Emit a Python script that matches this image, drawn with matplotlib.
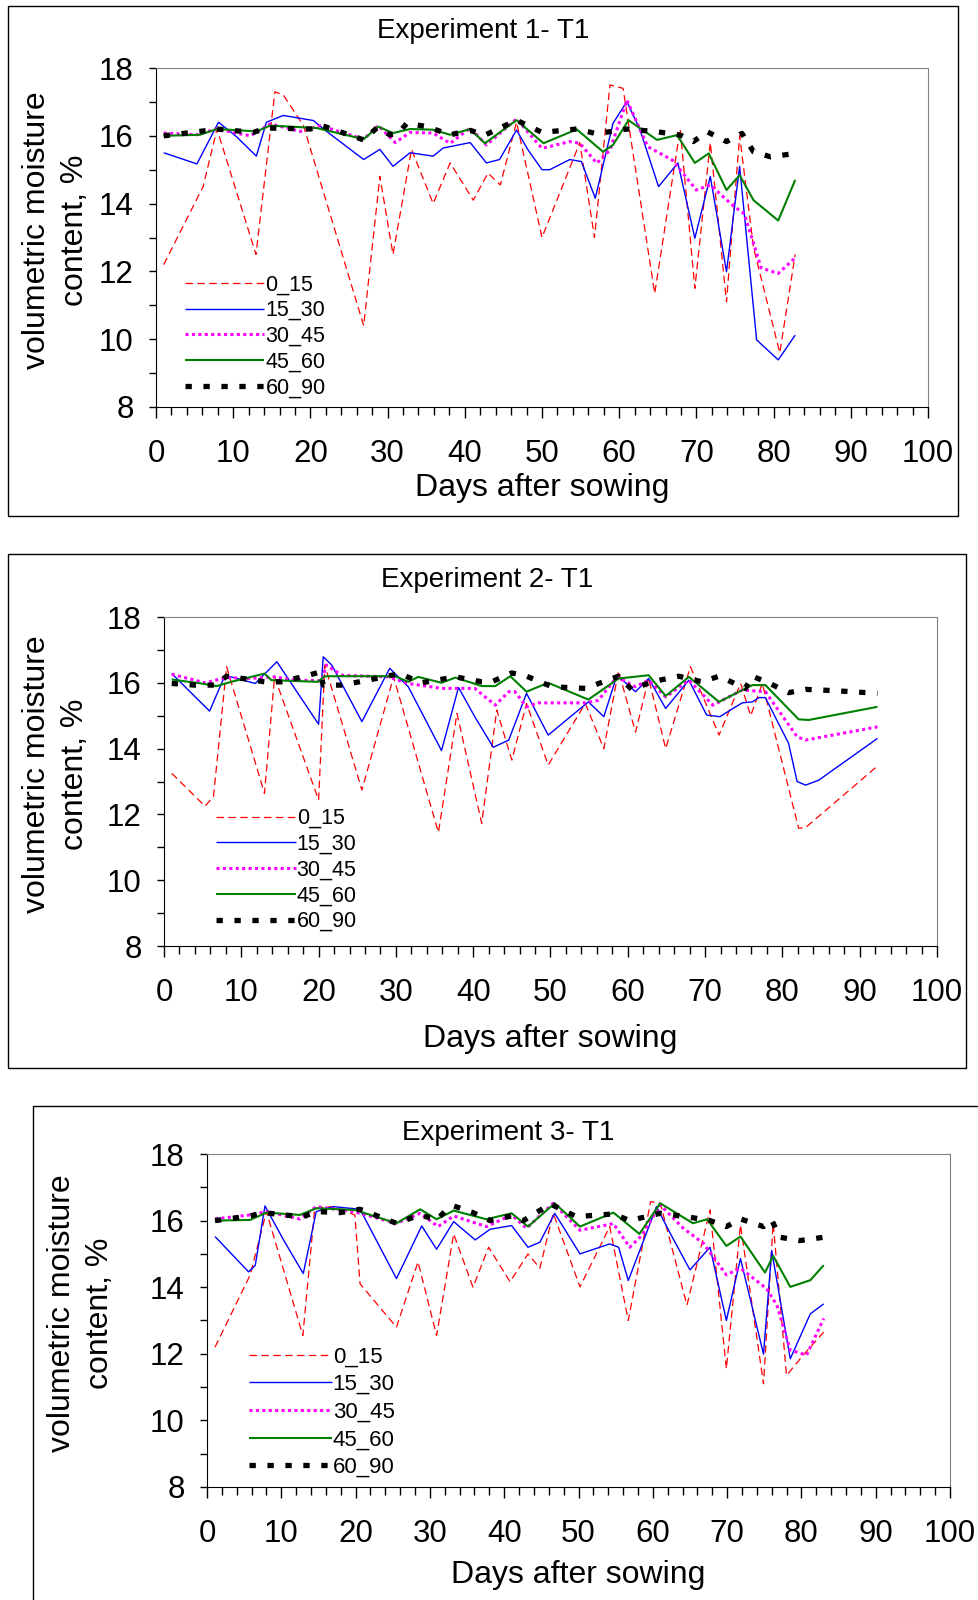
import matplotlib
matplotlib.use("Agg")
import matplotlib.pyplot as plt
from matplotlib.patches import Rectangle
from matplotlib.ticker import MultipleLocator

plt.rcParams['font.family'] = ['Liberation Sans', 'DejaVu Sans']

depths = ['0_15', '15_30', '30_45', '45_60', '60_90']

# ---- Experiment 1 ----
e1_0_15_day = [1, 6.1, 7.9, 12.95, 15.4, 16.5, 19.1, 26.9, 29.0, 30.7, 33.1, 35.9, 38.1, 41.1, 43.0, 44.6, 46.7,
               50.0, 54.9, 56.8, 58.8, 60.5, 64.6, 67.9, 69.8, 71.8, 73.9, 75.6, 77.4, 80.8, 82.8]
e1_0_15_vmc = [12.2, 14.5, 16.2, 12.5, 17.3, 17.2, 16.3, 10.4, 14.8, 12.5, 15.6, 14.0, 15.2, 14.1, 14.9, 14.55, 16.4,
               13.0, 15.8, 13.0, 17.5, 17.4, 11.35, 16.2, 11.5, 15.8, 11.1, 16.0, 12.7, 9.6, 12.5]
e1_15_30_day = [1, 5.3, 8.1, 10.4, 13.0, 14.3, 16.5, 20.4, 21.7, 26.9, 29.0, 30.7, 32.9, 35.9, 37.2, 40.7, 42.8, 44.5,
                46.7, 48.2, 50.0, 51.0, 53.6, 55.1, 56.9, 59.2, 61.0, 62.7, 65.1, 67.6, 69.8, 71.8, 73.9, 75.6, 77.8,
                80.6, 82.8]
e1_15_30_vmc = [15.5, 15.17, 16.4, 15.98, 15.4, 16.4, 16.6, 16.45, 16.2, 15.3, 15.6, 15.1, 15.5, 15.4, 15.64, 15.8,
                15.2, 15.3, 16.17, 15.58, 15.0, 15.0, 15.3, 15.24, 14.16, 16.37, 17.01, 16.17, 14.5, 15.2, 12.98, 14.8,
                11.99, 15.1, 9.98, 9.39, 10.12]
e1_30_45_day = [1, 5.3, 7.8, 12.2, 14.8, 18.7, 21.3, 26.9, 28.8, 31.0, 32.9, 35.9, 38.1, 40.7, 42.8, 46.7, 50.0, 53.6,
                54.9, 57.1, 58.8, 61.0, 63.7, 66.9, 70.0, 71.8, 74.8, 76.2, 78.4, 80.6, 82.8]
e1_30_45_vmc = [16.08, 16.03, 16.2, 16.0, 16.35, 16.13, 16.3, 15.9, 16.3, 15.8, 16.1, 16.08, 15.78, 16.23, 15.73, 16.5,
                15.63, 15.83, 15.78, 15.19, 15.58, 17.05, 15.68, 15.28, 14.4, 14.55, 13.93, 13.7, 12.1, 11.94, 12.4]
e1_45_60_day = [1, 5.7, 7.9, 13.0, 14.8, 20.8, 26.9, 28.8, 30.7, 32.9, 35.9, 38.1, 40.7, 42.6, 46.7, 50.2, 54.5, 57.9,
                59.2, 61.2, 64.9, 67.5, 69.8, 71.6, 73.9, 75.6, 77.4, 80.6, 82.8]
e1_45_60_vmc = [16.0, 16.03, 16.2, 16.13, 16.3, 16.23, 15.9, 16.27, 16.08, 16.2, 16.18, 16.03, 16.2, 15.78, 16.46,
                15.78, 16.19, 15.53, 15.73, 16.46, 15.88, 16.02, 15.2, 15.48, 14.4, 14.84, 14.1, 13.5, 14.7]
e1_60_90_day = [1, 5.7, 7.9, 12.6, 14.3, 20.0, 21.5, 26.9, 28.6, 30.3, 31.4, 32.5, 35.1, 38.1, 40.7, 42.6, 46.7, 50.0,
                54.5, 56.9, 58.8, 61.0, 64.9, 67.9, 69.6, 71.4, 73.9, 75.9, 77.4, 79.6, 82.8]
e1_60_90_vmc = [16.0, 16.13, 16.2, 16.1, 16.23, 16.2, 16.3, 15.88, 16.23, 16.03, 16.08, 16.37, 16.27, 16.03, 16.16,
                16.02, 16.46, 16.1, 16.2, 16.07, 16.12, 16.2, 16.12, 16.02, 15.83, 16.12, 15.83, 16.07, 15.53, 15.38,
                15.48]

# ---- Experiment 2 ----
e2_0_15_day = [1.0, 5.3, 6.4, 8.1, 13.0, 14.3, 20.0, 20.8, 25.6, 29.7, 35.5, 37.9, 41.1, 43.05, 45.0, 46.9, 49.7,
               54.5, 56.9, 58.8, 61.0, 62.7, 64.9, 68.1, 71.8, 74.6, 75.9, 77.4, 82.1, 83.0, 92.3]
e2_0_15_vmc = [13.25, 12.25, 12.54, 16.49, 12.64, 16.18, 12.44, 16.54, 12.74, 16.18, 11.45, 15.07, 11.73, 15.17, 13.65,
               15.37, 13.5, 15.37, 14.0, 16.36, 14.5, 16.13, 14.0, 16.49, 14.41, 15.98, 15.0, 15.98, 11.58, 11.6, 13.47]
e2_15_30_day = [1.0, 5.9, 7.9, 11.8, 14.6, 20.0, 20.6, 21.7, 25.6, 29.2, 31.6, 35.9, 38.1, 40.2, 42.6, 44.6, 46.9,
                49.7, 54.9, 56.9, 58.6, 61.0, 62.7, 64.9, 67.9, 70.2, 71.9, 74.8, 76.1, 77.0, 77.8, 80.8, 81.9, 83.0,
                84.7, 92.3]
e2_15_30_vmc = [16.28, 15.14, 16.23, 15.98, 16.64, 14.74, 16.79, 16.54, 14.82, 16.44, 15.88, 13.94, 15.86, 14.97,
                14.04, 14.26, 15.68, 14.41, 15.42, 14.97, 16.23, 15.73, 16.13, 15.22, 16.08, 15.02, 14.97, 15.39, 15.42,
                15.55, 15.55, 14.16, 13.0, 12.89, 13.04, 14.31]
e2_30_45_day = [1, 5.3, 8.1, 11, 14.3, 16.9, 20.4, 21.0, 23, 29, 31.6, 35.9, 40.2, 42.85, 44.6, 45.4, 46.9, 48.4, 54.5,
                56.2, 58.6, 61.0, 62.7, 64.9, 67.9, 71.0, 74.8, 77.8, 81.9, 83.0, 92.3]
e2_30_45_vmc = [16.26, 16.0, 16.16, 16.13, 16.18, 16.08, 16.06, 16.54, 16.23, 16.18, 15.98, 15.83, 15.83, 15.32,
                15.73, 15.73, 15.27, 15.39, 15.39, 15.47, 16.18, 15.88, 16.08, 15.57, 16.08, 15.32, 15.78, 15.73, 14.36,
                14.26, 14.66]
e2_45_60_day = [1, 4.8, 6.8, 8.7, 13.0, 13.9, 19.9, 20.8, 29.9, 31.6, 32.9, 35.9, 37.7, 41.1, 42.85, 44.8, 46.9, 49.7,
                54.9, 58.8, 62.7, 64.9, 67.9, 71.8, 76.1, 77.8, 82.1, 83.4, 92.3]
e2_45_60_vmc = [16.1, 15.98, 15.9, 16.03, 16.28, 16.08, 16.03, 16.2, 16.2, 16.03, 16.18, 16.0, 16.16, 15.9, 15.9, 16.2,
                15.73, 16.0, 15.49, 16.13, 16.23, 15.6, 16.18, 15.42, 15.93, 15.93, 14.89, 14.87, 15.27]
e2_60_90_day = [1, 4, 6.6, 8.1, 10.2, 13, 15.2, 18.7, 20.2, 20.6, 23, 26.4, 30.5, 33.3, 37.7, 41.1, 42.4, 45, 46.9,
                50.2, 54.5, 58.8, 60.5, 63.1, 66.6, 69.6, 71.8, 75.2, 76.1, 78.2, 80.8, 83.0, 86.8, 92.3]
e2_60_90_vmc = [15.98, 15.93, 15.93, 16.2, 16.13, 16.03, 16.03, 16.23, 16.33, 15.93, 15.93, 16.08, 16.28, 16.0, 16.18,
                16.03, 16.03, 16.3, 16.2, 15.88, 15.83, 16.2, 15.8, 16.03, 16.2, 16.03, 16.2, 15.83, 16.2, 16.0, 15.7,
                15.8, 15.76, 15.68]

# ---- Experiment 3 ----
e3_0_15_day = [1.08, 5.8, 8.0, 12.9, 14.5, 17, 19.9, 20.6, 25.5, 28.4, 30.9, 33.2, 35.8, 37.9, 40.8, 43.2, 44.8, 46.6,
               50.2, 54.2, 56.7, 59.7, 61.0, 64.6, 67.7, 69.9, 71.8, 74.9, 76.2, 78.0, 80.2, 83.0]
e3_0_15_vmc = [12.2, 14.36, 16.27, 12.55, 16.37, 16.42, 16.17, 14.1, 12.8, 14.76, 12.55, 15.6, 14.0, 15.2, 14.16, 15.0,
               14.57, 16.22, 14.01, 15.82, 13.0, 16.57, 16.52, 13.46, 16.32, 11.55, 15.87, 11.1, 15.92, 11.35, 11.95,
               12.65]
e3_15_30_day = [1.08, 5.6, 6.5, 7.8, 10.3, 12.96, 14.7, 17, 20.6, 25.5, 28.9, 30.9, 33.2, 36.1, 38.1, 41.0, 43.2, 44.8,
                46.8, 50.2, 54.2, 55.4, 56.7, 60.5, 62.1, 65.0, 67.7, 69.9, 71.8, 74.9, 76.0, 78.5, 81.2, 83.0]
e3_15_30_vmc = [15.52, 14.46, 14.66, 16.44, 15.42, 14.41, 16.27, 16.42, 16.34, 14.26, 15.84, 15.14, 15.97, 15.42,
                15.74, 15.85, 15.2, 15.35, 16.22, 15.0, 15.3, 15.2, 14.2, 16.42, 15.72, 14.52, 15.2, 13.0, 14.86, 11.99,
                15.1, 11.85, 13.2, 13.5]
e3_30_45_day = [1.08, 5.8, 8.0, 12.5, 14.7, 19.7, 25.5, 28.7, 31.1, 33.2, 37.6, 41.0, 43.0, 46.6, 50.2, 54.7, 56.9,
                58.5, 61.0, 64.1, 66.8, 69.9, 71.8, 75.3, 76.7, 78.5, 80.7, 83.0]
e3_30_45_vmc = [16.05, 16.17, 16.27, 16.05, 16.42, 16.27, 15.92, 16.22, 15.82, 16.14, 15.82, 16.17, 15.77, 16.52,
                15.71, 15.91, 15.2, 15.55, 16.47, 15.77, 15.32, 14.37, 14.57, 13.96, 13.46, 12.11, 11.96, 13.06]
e3_45_60_day = [1.08, 5.8, 8.0, 12.5, 14.7, 19.9, 25.5, 28.7, 30.9, 33.2, 37.6, 41.0, 43.2, 46.8, 50.2, 54.7, 58.2,
                61.0, 65.4, 67.3, 69.9, 71.8, 75.1, 76.2, 78.5, 81.2, 83.0]
e3_45_60_vmc = [16.0, 16.02, 16.24, 16.17, 16.37, 16.32, 15.92, 16.34, 16.04, 16.3, 16.04, 16.22, 15.82, 16.52, 15.82,
                16.24, 15.6, 16.52, 15.92, 16.04, 15.24, 15.52, 14.44, 14.94, 14.01, 14.21, 14.66]
e3_60_90_day = [1.08, 3.5, 5.8, 7.6, 10.3, 13, 14.7, 17.9, 20.6, 25.5, 28.7, 30.9, 32, 33.2, 35.8, 38.1, 41, 42.6,
                46.2, 49.7, 54.7, 56.9, 61, 65, 67.7, 69.9, 71.8, 74.9, 76, 77.1, 79.8, 83.0]
e3_60_90_vmc = [16.0, 16.07, 16.14, 16.24, 16.17, 16.12, 16.27, 16.24, 16.34, 15.92, 16.17, 16.02, 16.27, 16.44, 16.24,
                16.0, 16.14, 16.0, 16.5, 16.12, 16.2, 16.0, 16.22, 16.1, 16.0, 15.82, 16.05, 15.82, 16.02, 15.5, 15.4,
                15.5]

titles = ['Experiment 1- T1', 'Experiment 2- T1', 'Experiment 3- T1']

# line styles per depth: color, width, dash pattern (None = solid)
styles = {
    '0_15': ('#FF0000', 0.9, (6, 3.5)),
    '15_30': ('#0000FF', 1.0, None),
    '30_45': ('#FF00FF', 2.2, (1.0, 1.1)),
    '45_60': ('#008000', 1.5, None),
    '60_90': ('#000000', 3.8, (1.2, 2.2)),
}

panels = [
    [(e1_0_15_day, e1_0_15_vmc), (e1_15_30_day, e1_15_30_vmc), (e1_30_45_day, e1_30_45_vmc),
     (e1_45_60_day, e1_45_60_vmc), (e1_60_90_day, e1_60_90_vmc)],
    [(e2_0_15_day, e2_0_15_vmc), (e2_15_30_day, e2_15_30_vmc), (e2_30_45_day, e2_30_45_vmc),
     (e2_45_60_day, e2_45_60_vmc), (e2_60_90_day, e2_60_90_vmc)],
    [(e3_0_15_day, e3_0_15_vmc), (e3_15_30_day, e3_15_30_vmc), (e3_30_45_day, e3_30_45_vmc),
     (e3_45_60_day, e3_45_60_vmc), (e3_60_90_day, e3_60_90_vmc)],
]

W, H = 979, 1600
fig = plt.figure(figsize=(9.79, 16), dpi=100)


def fx(px):
    return px / W


def fy(py):
    return 1 - py / H


# pixel layout: axes (left, right, top, bottom), box (x0, y0, x1, y1), title, xlabel y, ylabel x's, legend anchor
layout = [
    dict(ax=(156, 928, 68, 407), box=(8, 6, 958, 516), title=(483, 31), xlab=488, ylab=(37, 75),
         leg=(0.026, 0.0), legfs=15.5, legsp=0.22),
    dict(ax=(164, 937, 617, 946), box=(8, 554, 966, 1068), title=(487, 580), xlab=1039, ylab=(37, 75),
         leg=(0.056, 0.016), legfs=15.5, legsp=0.22),
    dict(ax=(207, 950, 1154, 1487), box=(33, 1106, 990, 1610), title=(508, 1133), xlab=1575, ylab=(62, 100),
         leg=(0.045, 0.0), legfs=16, legsp=0.3),
]

for i, lay in enumerate(layout):
    l, r, t, b = lay['ax']
    x0, y0, x1, y1 = lay['box']
    fig.patches.append(Rectangle((fx(x0), fy(y1)), fx(x1 - x0), (y1 - y0) / H, transform=fig.transFigure,
                                 fill=False, edgecolor='black', linewidth=1.0, clip_on=False))
    ax = fig.add_axes([fx(l), fy(b), fx(r - l), (b - t) / H])
    for k, (d, v) in enumerate(panels[i]):
        c, lw, dash = styles[depths[k]]
        line, = ax.plot(d, v, color=c, linewidth=lw, label=depths[k], solid_capstyle='butt',
                        dash_capstyle='butt')
        if dash is not None:
            line.set_dashes(dash)
    ax.set_xlim(0, 100)
    ax.set_ylim(8, 18)
    ax.xaxis.set_major_locator(MultipleLocator(10))
    ax.xaxis.set_minor_locator(MultipleLocator(2))
    ax.yaxis.set_major_locator(MultipleLocator(2))
    ax.yaxis.set_minor_locator(MultipleLocator(1))
    ax.tick_params(axis='x', which='major', direction='out', length=8, width=1, pad=15, labelsize=22.5)
    ax.tick_params(axis='x', which='minor', direction='out', length=6, width=1)
    ax.tick_params(axis='y', which='both', direction='out', length=5, width=1, pad=11, labelsize=22.5)
    for s in ['top', 'right']:
        ax.spines[s].set_color('#808080')
    for s in ['left', 'bottom']:
        ax.spines[s].set_color('black')
    ax.legend(loc='lower left', bbox_to_anchor=lay['leg'], frameon=False, fontsize=lay['legfs'],
              handlelength=3.7, handletextpad=0.05, labelspacing=lay['legsp'], borderaxespad=0)
    fig.text(fx(lay['title'][0]), fy(lay['title'][1]), titles[i], ha='center', va='center', fontsize=20)
    fig.text(fx((l + r) / 2), fy(lay['xlab']), 'Days after sowing', ha='center', va='center', fontsize=23)
    yc = fy((t + b) / 2 - 7)
    fig.text(fx(lay['ylab'][0]), yc, 'volumetric moisture', rotation=90, ha='center', va='center', fontsize=23)
    fig.text(fx(lay['ylab'][1]), yc, 'content, %', rotation=90, ha='center', va='center', fontsize=23)

fig.savefig('out.png', dpi=100)
